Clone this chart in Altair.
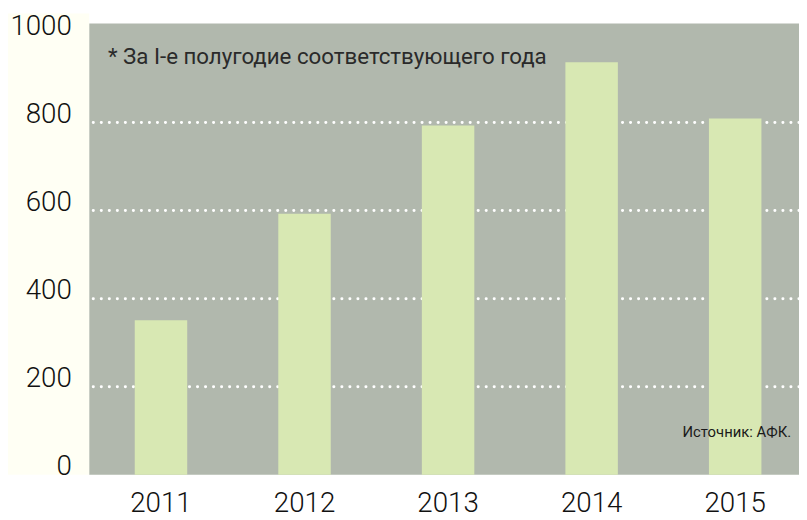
import altair as alt
import pandas as pd

# ---- data ----
years = ["2011", "2012", "2013", "2014", "2015"]
values = [351, 593, 793, 937, 809]
grid_values = [200, 400, 600, 800]
y_ticks = [0, 200, 400, 600, 800, 1000]
note_text = "* За I-е полугодие соответствующего года"
source_text = "Источник: АФК."

df = pd.DataFrame({"year": years, "value": values})
grid_df = pd.DataFrame({"value": grid_values})
one = pd.DataFrame({"a": [0]})

W, H = 717, 456
GRAY = "#b1b8ad"
BAR = "#d8e8b3"
CREAM = "#fffff4"

yscale = alt.Scale(domain=[0, 1025], nice=False, zero=True)
xscale = alt.Scale(paddingInner=0.6345, paddingOuter=0.2897, align=0.548)

yaxis = alt.Axis(
    values=y_ticks, format="d", title=None, grid=False, domain=False, ticks=False, tickSize=0,
    labelPadding=18, labelFont="Roboto", labelFontSize=28, labelFontWeight=300,
    labelColor="#111111", labelBaseline="alphabetic", zindex=2,
)

cream = alt.Chart(one).mark_rect(color=CREAM).encode(
    x=alt.value(-82), x2=alt.value(0), y=alt.value(-10), y2=alt.value(H)
)

grid = alt.Chart(grid_df).mark_rule(
    color="white", strokeWidth=3, strokeDash=[0.1, 8], strokeCap="round"
).encode(y=alt.Y("value:Q", scale=yscale, axis=yaxis))

bars = alt.Chart(df).mark_bar(color=BAR).encode(
    x=alt.X(
        "year:N", scale=xscale,
        axis=alt.Axis(
            title=None, labelAngle=0, domain=False, ticks=False, tickSize=0,
            labelPadding=37, labelBaseline="alphabetic",
            labelFont="Roboto", labelFontSize=28, labelFontWeight=300,
            labelColor="#111111", zindex=2,
        ),
    ),
    y=alt.Y("value:Q", scale=yscale, axis=yaxis),
)

note = alt.Chart(one).mark_text(
    text=note_text, align="left", baseline="alphabetic",
    font="Roboto", fontSize=22.5, color="#2a2a2a",
).encode(x=alt.value(19), y=alt.value(41))

source = alt.Chart(one).mark_text(
    text=source_text, align="right", baseline="alphabetic",
    font="Roboto", fontSize=15, color="#1a1a1a",
).encode(x=alt.value(709), y=alt.value(418))

chart = alt.layer(cream, grid, bars, note, source).properties(
    width=W, height=H,
    autosize=alt.AutoSizeParams(type="none"),
    padding={"left": 82, "top": 13, "right": 0, "bottom": 42},
    background="white",
).configure_view(fill=GRAY, strokeWidth=0)

chart.save("out.html", embed_options={"renderer": "svg", "actions": False})
